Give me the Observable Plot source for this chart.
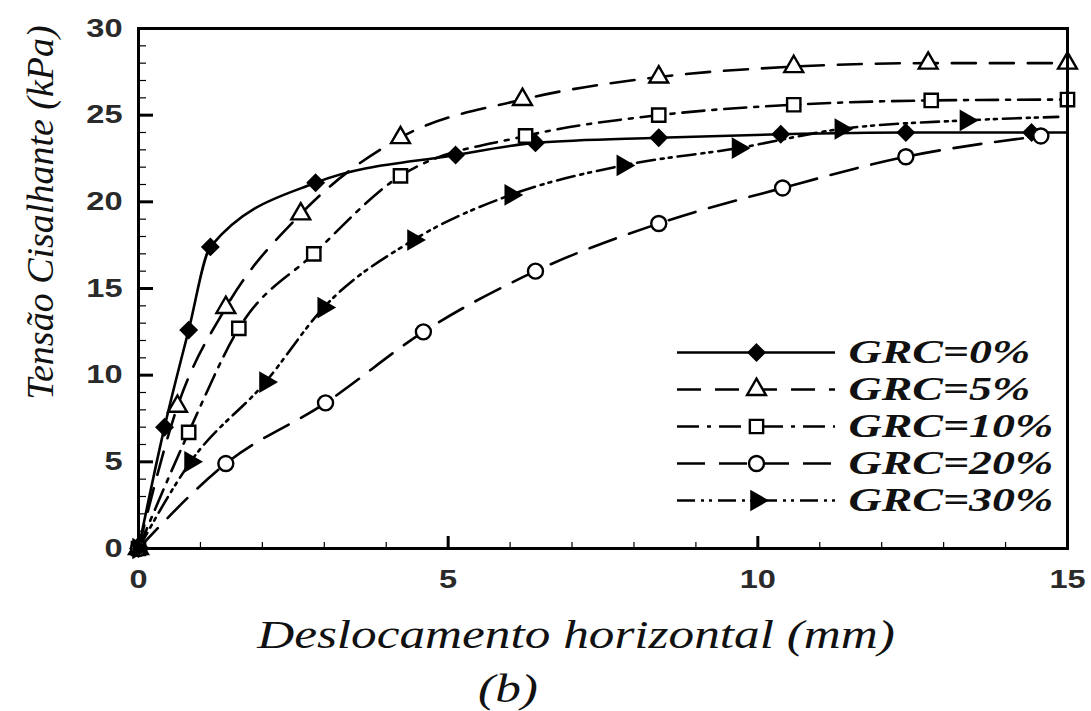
<!DOCTYPE html>
<html><head><meta charset="utf-8">
<script src="https://cdn.jsdelivr.net/npm/d3@7"></script>
<script src="https://cdn.jsdelivr.net/npm/@observablehq/plot@0.6"></script>
<style>
body{margin:0;background:#fff;}
#wrap{position:relative;width:1091px;height:711px;overflow:hidden;}
#wrap svg{position:absolute;}
</style></head><body><div id="wrap"></div>
<script>
// ---- data ----
const series = ["GRC=0%", "GRC=5%", "GRC=10%", "GRC=20%", "GRC=30%"];
const x0  = [0, 0.42, 0.81, 1.16, 2.86, 5.12, 6.41, 8.40, 10.37, 12.39, 14.42];
const y0  = [0, 7.0, 12.6, 17.4, 21.1, 22.7, 23.4, 23.7, 23.9, 24.0, 24.0];
const x5  = [0, 0.63, 1.41, 2.62, 4.23, 6.20, 8.40, 10.58, 12.75, 15.0];
const y5  = [0, 8.2, 13.9, 19.3, 23.7, 25.9, 27.2, 27.8, 28.0, 28.0];
const x10 = [0, 0.81, 1.62, 2.83, 4.23, 6.25, 8.40, 10.58, 12.80, 15.0];
const y10 = [0, 6.7, 12.7, 17.0, 21.5, 23.8, 25.0, 25.6, 25.85, 25.9];
const x20 = [0, 1.41, 3.02, 4.60, 6.41, 8.40, 10.40, 12.39, 14.57];
const y20 = [0, 4.9, 8.4, 12.5, 16.0, 18.75, 20.8, 22.6, 23.8];
const x30 = [0, 0.84, 2.05, 2.99, 4.44, 6.01, 7.82, 9.68, 11.34, 13.36];
const y30 = [0, 5.0, 9.6, 13.9, 17.8, 20.4, 22.1, 23.1, 24.2, 24.7];
// line continues past the last marker
const tailX = [15.0, null, null, null, 14.85];
const tailY = [24.0, null, null, null, 24.9];

const xTicks = [0, 5, 10, 15];
const yTicks = [0, 5, 10, 15, 20, 25, 30];
const xMinor = [1, 2, 3, 4, 6, 7, 8, 9, 11, 12, 13, 14];
const yMinor = [1,2,3,4,6,7,8,9,11,12,13,14,16,17,18,19,21,22,23,24,26,27,28,29];

const xTitle = "Deslocamento horizontal (mm)";
const yTitle = "Tensão Cisalhante (kPa)";
const caption = "(b)";

// ---- styling per series ----
const xs = [x0, x5, x10, x20, x30];
const ys = [y0, y5, y10, y20, y30];
const dashes = [null, "24,14", "22,8,4,8", "28,14", "18,6,3,5,3,6"];
const symbols = ["diamond2", "triangle", "square", "circle", "triangle"];
const fills = ["black", "white", "white", "white", "black"];
const radii = [7, 7, 7.5, 7.5, 6.5];
const rot = [0, 0, 0, 0, 90];

const W = 1091, H = 711;
const mL = 138, mT = 28, mR = 24, mB = 163;
const fw = W - mL - mR, fh = H - mT - mB;

const ptRows = series.map((s, i) => xs[i].map((x, j) => ({s, x, y: ys[i][j]})));
const lineRows = series.map((s, i) => tailX[i] == null ? ptRows[i] : [...ptRows[i], {s, x: tailX[i], y: tailY[i]}]);

const marks = [];
series.forEach((s, i) => {
  marks.push(Plot.line(lineRows[i], {x: "x", y: "y", curve: "monotone-x", stroke: "black", strokeWidth: 2.6, strokeDasharray: dashes[i] ?? undefined}));
});
series.forEach((s, i) => {
  marks.push(Plot.dot(ptRows[i], {x: "x", y: "y", symbol: () => symbols[i], r: radii[i], fill: fills[i], stroke: "black", strokeWidth: 2.4, rotate: rot[i]}));
});
marks.push(
  Plot.tickY(yTicks, {y: d => d, insetRight: fw - 15, stroke: "black", strokeWidth: 3}),
  Plot.tickY(yMinor, {y: d => d, insetRight: fw - 8, stroke: "black", strokeWidth: 1.2}),
  Plot.tickX(xTicks, {x: d => d, insetTop: fh - 12, stroke: "black", strokeWidth: 3}),
  Plot.tickX(xMinor, {x: d => d, insetTop: fh - 6, stroke: "black", strokeWidth: 1.2}),
  Plot.frame({stroke: "black", strokeWidth: 3}),
  Plot.text([yTitle], {text: d => d, frameAnchor: "left", textAnchor: "middle", lineAnchor: "middle", rotate: -90, dx: -98, dy: -76, fontSize: 38, fontStyle: "italic", fontWeight: "normal", fontFamily: "Liberation Serif", fill: "#111"}),
  Plot.text([xTitle], {text: d => d, frameAnchor: "bottom", lineAnchor: "middle", dx: -27, dy: 86, fontSize: 41, fontStyle: "italic", fontWeight: "normal", fontFamily: "Liberation Serif", fill: "#111"}),
  Plot.text([caption], {text: d => d, frameAnchor: "bottom", lineAnchor: "middle", dx: -95, dy: 140, fontSize: 41, fontStyle: "italic", fontWeight: "normal", fontFamily: "Liberation Serif", fill: "#111"})
);

const chart = Plot.plot({
  width: W, height: H,
  marginLeft: mL, marginTop: mT, marginRight: mR, marginBottom: mB,
  x: {domain: [0, 15], ticks: xTicks, tickSize: 0, tickPadding: 21, label: null},
  y: {domain: [0, 30], ticks: yTicks, tickSize: 0, tickPadding: 16, label: null},
  style: {fontFamily: "Liberation Sans, Arial, sans-serif", fontSize: "26px", fontWeight: "bold", color: "#2a2a2a", background: "white"},
  marks
});

// ---- legend (separate small plot laid over the frame) ----
const legMarks = [];
series.forEach((s, i) => {
  legMarks.push(Plot.ruleY([s], {y: d => d, x1: 0, x2: 1, stroke: "black", strokeWidth: 2.6, strokeDasharray: dashes[i] ?? undefined}));
  legMarks.push(Plot.dot([s], {y: d => d, x: () => 0.5, symbol: () => symbols[i], r: radii[i], fill: fills[i], stroke: "black", strokeWidth: 2.4, rotate: rot[i]}));
});
legMarks.push(Plot.text(series, {y: d => d, x: () => 1, text: d => d, dx: 13, textAnchor: "start", fontSize: 34, fontStyle: "italic", fontWeight: "bold", fontFamily: "Liberation Serif", fill: "#111"}));
const legend = Plot.plot({
  width: 420, height: 250, margin: 0,
  x: {domain: [0, 1], range: [17, 175], axis: null},
  y: {type: "point", domain: series, range: [32, 219], axis: null},
  style: {background: "transparent", overflow: "visible"},
  marks: legMarks
});

const wrap = document.getElementById("wrap");
chart.style.left = "0px"; chart.style.top = "0px";
legend.style.left = "660px"; legend.style.top = "300px";
wrap.appendChild(chart);
wrap.appendChild(legend);

// the reference is horizontally stretched: widen glyphs of non-rotated text
function stretch(svg, k) {
  svg.querySelectorAll("text").forEach(t => {
    const tr = (t.getAttribute("transform") || "");
    if (tr.includes("rotate")) return;
    const len = t.getComputedTextLength();
    if (len > 0) {
      t.setAttribute("textLength", (len * k).toFixed(1));
      t.setAttribute("lengthAdjust", "spacingAndGlyphs");
    }
  });
}
stretch(chart, 1.25);
stretch(legend, 1.35);
</script></body></html>
